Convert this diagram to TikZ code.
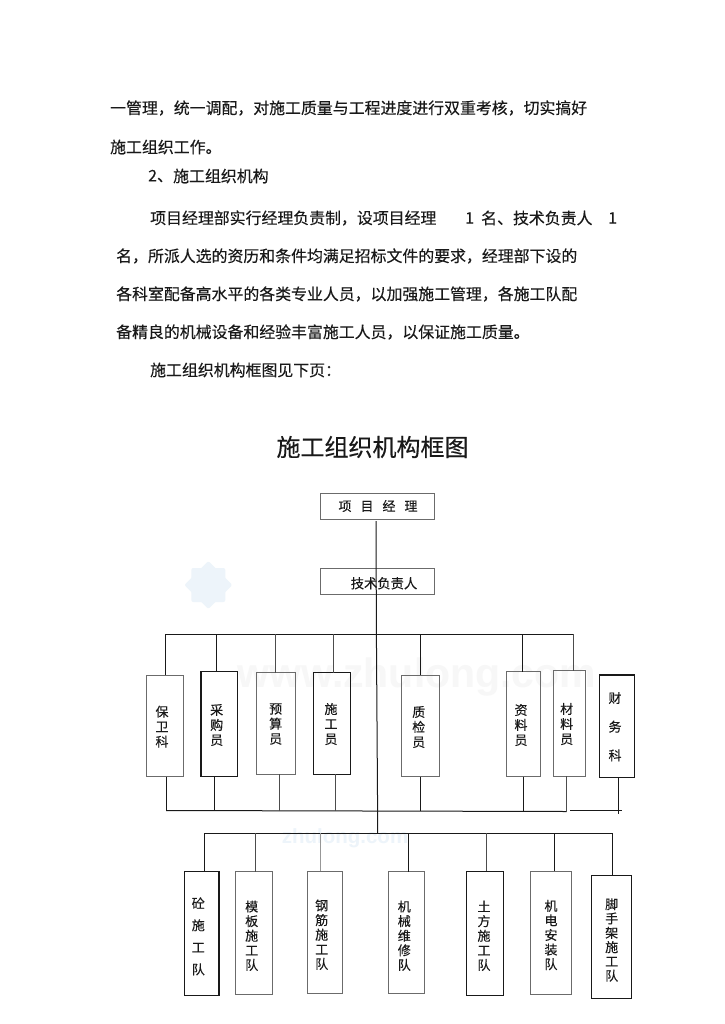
\documentclass[tikz,border=0pt]{standalone}
\usepackage{fontspec}
\setmainfont{Noto Sans CJK SC}[FakeBold=0.25]
\newfontfamily\wmfont{Liberation Sans}[Scale=1]
\definecolor{linegray}{gray}{0.3}
\definecolor{boxgray}{gray}{0.42}
\definecolor{inkdark}{gray}{0.1}
\definecolor{wmblue}{HTML}{EDF4FA}
\definecolor{wmgray}{HTML}{F7F7F7}
\tikzset{
  orgbox/.style={draw=boxgray,line width=1pt,fill=none,inner sep=0pt,outer sep=0pt},
  darkbox/.style={orgbox,draw=inkdark,line width=1.1pt},
  vlabel/.style={align=center,inner sep=0pt,text=inkdark,font=\fontsize{13}{#1}\selectfont},
  para/.style={anchor=west,inner sep=0pt,text=inkdark,font=\fontsize{15.9}{18}\selectfont},
  conn/.style={draw=linegray,line width=1pt},
  connd/.style={draw=inkdark,line width=1pt},
  connl/.style={draw=boxgray!70!white,line width=1pt},
}
\begin{document}
\begin{tikzpicture}[x=1pt,y=-1pt]
\useasboundingbox (0,0) rectangle (724,1024);
\fill[white] (0,0) rectangle (724,1024);
% watermarks
\begin{scope}[shift={(208.3,585)}]
\fill[wmblue,rounded corners=2pt] (-17,-17) rectangle (17,17);
\fill[wmblue,rounded corners=2pt] (0,-24) -- (24,0) -- (0,24) -- (-24,0) -- cycle;
\end{scope}
\node[inner sep=0pt,text=wmgray,font=\wmfont\bfseries\fontsize{41}{43}\selectfont] (wm1) at (417,677) {www.zhulong.com};
\node[inner sep=0pt,text=wmblue,font=\wmfont\bfseries\fontsize{20.5}{22}\selectfont] (wm2) at (345,838) {zhulong.com};
% paragraph text
\node[para] (p1) at (110,108) {一管理，统一调配，对施工质量与工程进度进行双重考核，切实搞好};
\node[para] (p2) at (110,147) {施工组织工作。};
\node[para] (p3a) at (148,176) {2、};
\node[para] (p3b) at (173,176) {施工组织机构};
\node[para] (p4a) at (150,218) {项目经理部实行经理负责制，设项目经理};
\node[para] (p4b) at (465,218) {1};
\node[para] (p4c) at (481,218) {名、技术负责人};
\node[para] (p4d) at (608,218) {1};
\node[para] (p5) at (116,256) {名，所派人选的资历和条件均满足招标文件的要求，经理部下设的};
\node[para] (p6) at (116,294) {各科室配备高水平的各类专业人员，以加强施工管理，各施工队配};
\node[para] (p7) at (116,332) {备精良的机械设备和经验丰富施工人员，以保证施工质量。};
\node[para] (p8) at (150,370) {施工组织机构框图见下页：};
\node[inner sep=0pt,text=inkdark,font=\fontsize{24}{26}\selectfont] (title) at (372.5,447) {施工组织机构框图};
% top boxes
\node[orgbox,minimum width=114.3pt,minimum height=26pt] (pm) at (377.15,506.3) {};
\node[inner sep=0pt,text=inkdark,font=\fontsize{13}{15}\selectfont] (pmt) at (378,506) {项\kern9pt 目\kern9pt 经\kern9pt 理};
\node[orgbox,minimum width=114.3pt,minimum height=26pt] (tl) at (377.15,581.3) {};
\node[inner sep=0pt,text=inkdark,font=\fontsize{13.3}{15}\selectfont] (tlt) at (384,583.3) {技术负责人};
% office boxes
\node[orgbox,minimum width=37.4pt,minimum height=101.7pt] (b1) at (165,725.85) {};
\node[darkbox,minimum width=36.7pt,minimum height=105pt] (b2) at (219.35,724.2) {};
\node[orgbox,minimum width=39pt,minimum height=101.6pt] (b3) at (276.2,723.5) {};
\node[darkbox,minimum width=37pt,minimum height=101.6pt] (b4) at (332.2,723.5) {};
\node[orgbox,minimum width=37.6pt,minimum height=101.7pt] (b5) at (420.5,725.85) {};
\node[orgbox,minimum width=33.6pt,minimum height=105pt] (b6) at (523.5,724.2) {};
\node[orgbox,minimum width=32.4pt,minimum height=105.6pt] (b7) at (569.5,723.5) {};
\node[darkbox,minimum width=35pt,minimum height=102.3pt] (b8) at (616.8,726.15) {};
\node[vlabel=15] (l1) at (162,726.7) {保\\卫\\科};
\node[vlabel=15] (l2) at (216.7,725) {采\\购\\员};
\node[vlabel=15] (l3) at (275.7,724) {预\\算\\员};
\node[vlabel=15] (l4) at (331,724) {施\\工\\员};
\node[vlabel=15] (l5) at (418.7,727) {质\\检\\员};
\node[vlabel=15] (l6) at (521,725) {资\\料\\员};
\node[vlabel=15] (l7) at (566.7,724) {材\\料\\员};
\node[vlabel=28.7] (l8) at (615,726.7) {财\\务\\科};
% team boxes
\node[darkbox,minimum width=34.3pt,minimum height=123.6pt] (c1) at (201.85,933.5) {};
\node[orgbox,minimum width=37.4pt,minimum height=122.6pt] (c2) at (254,933) {};
\node[orgbox,minimum width=34.3pt,minimum height=121.7pt] (c3) at (324.85,932.15) {};
\node[orgbox,minimum width=36.4pt,minimum height=122pt] (c4) at (406.5,932.7) {};
\node[darkbox,minimum width=37pt,minimum height=124pt] (c5) at (485.2,933.3) {};
\node[orgbox,minimum width=40.7pt,minimum height=123pt] (c6) at (550.65,932.8) {};
\node[darkbox,minimum width=40pt,minimum height=123pt] (c7) at (611.3,936.8) {};
\node[vlabel=22] (d1) at (198.3,936.3) {砼\\施\\工\\队};
\node[vlabel=14.6] (d2) at (251.7,935.7) {模\\板\\施\\工\\队};
\node[vlabel=14.6] (d3) at (321.7,934.7) {钢\\筋\\施\\工\\队};
\node[vlabel=14.6] (d4) at (404.3,935.7) {机\\械\\维\\修\\队};
\node[vlabel=14.6] (d5) at (484,935.8) {土\\方\\施\\工\\队};
\node[vlabel=14.6] (d6) at (551,935) {机\\电\\安\\装\\队};
\node[vlabel=14.3] (d7) at (611.7,940) {脚\\手\\架\\施\\工\\队};
% bus points
\coordinate (ta) at (165.7,634.3); \coordinate (tz) at (573.3,634.3);
\coordinate (t2) at (216.7,634.3); \coordinate (t3) at (275.7,634.3);
\coordinate (t4) at (333,634.3); \coordinate (t5) at (420.3,634.3);
\coordinate (t6) at (522.3,634.3);
\coordinate (tr0) at (376,521); \coordinate (tr1) at (376.4,634.3);
\coordinate (tr2) at (377.6,810.5); \coordinate (tr3) at (377.6,833.3);
\coordinate (ma) at (166,810.5); \coordinate (m2) at (214.3,810.5);
\coordinate (m3) at (279.3,810.5); \coordinate (m4) at (335.3,810.5);
\coordinate (m5) at (420.3,810.5); \coordinate (m6) at (523.7,810.5);
\coordinate (m7) at (566.7,811.5); \coordinate (mg) at (570,810.5);
\coordinate (mz) at (621.7,810.5); \coordinate (m8) at (618.3,814);
\coordinate (la) at (204.3,833.3); \coordinate (l2p) at (255.3,833.3);
\coordinate (l3p) at (320.3,833.3); \coordinate (l4p) at (408.3,833.3);
\coordinate (l5p) at (486,833.3); \coordinate (l6p) at (554.3,833.3);
\coordinate (lz) at (612,833.3);
% trunk and buses
\draw[connd] (tr0) -- (tr1) -- (tr2) -- (tr3);
\draw[connd] (ta) -- (tz);
\draw[connd] (ma) -- (m7);
\draw[connd] (mg) -- (mz);
\draw[connd] (la) -- (lz);
% top drops
\draw[connd] (ta) -- (ta |- b1.north);
\draw[connd] (t2) -- (t2 |- b2.north);
\draw[conn] (t3) -- (t3 |- b3.north);
\draw[conn] (t4) -- (t4 |- b4.north);
\draw[connd] (t5) -- (t5 |- b5.north);
\draw[connd] (t6) -- (t6 |- b6.north);
\draw[conn] (tz) -- (tz |- b7.north);
% middle drops
\draw[connd] (ma |- b1.south) -- (ma);
\draw[connd] (m2 |- b2.south) -- (m2);
\draw[conn] (m3 |- b3.south) -- (m3);
\draw[conn] (m4 |- b4.south) -- (m4);
\draw[connd] (m5 |- b5.south) -- (m5);
\draw[connd] (m6 |- b6.south) -- (m6);
\draw[conn] (m7 |- b7.south) -- (m7);
\draw[connd,line width=1.6pt] (m8 |- b8.south) -- (m8);
% lower drops
\draw[connd] (la) -- (la |- c1.north);
\draw[conn] (l2p) -- (l2p |- c2.north);
\draw[connl] (l3p) -- (l3p |- c3.north);
\draw[connd] (l4p) -- (l4p |- c4.north);
\draw[conn] (l5p) -- (l5p |- c5.north);
\draw[connd] (l6p) -- (l6p |- c6.north);
\draw[connd] (lz) -- (lz |- c7.north);
\end{tikzpicture}
\end{document}
